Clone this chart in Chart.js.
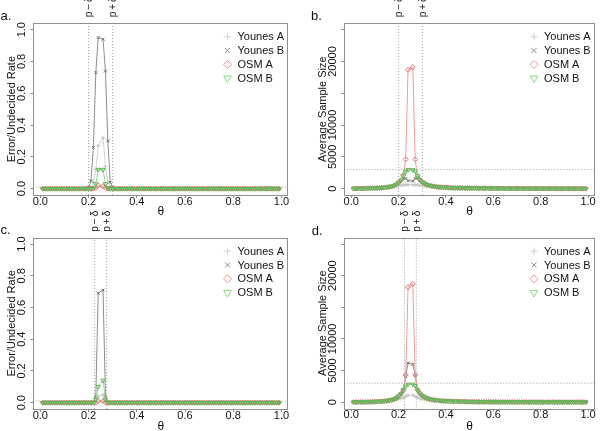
<!DOCTYPE html>
<html>
<head>
<meta charset="utf-8">
<script src="https://cdn.jsdelivr.net/npm/chart.js@4.4.1/dist/chart.umd.min.js"></script>
<style>
  body { margin: 0; background: #fff; }
  #wrap { position: relative; width: 600px; height: 431px; overflow: hidden; background: #fff; }
  #wrap canvas { position: absolute; }
</style>
</head>
<body>
<div id="wrap">
  <canvas id="pa" width="300" height="240" style="left:0;top:0"></canvas>
  <canvas id="pb" width="300" height="240" style="left:300px;top:0"></canvas>
  <canvas id="pc" width="300" height="240" style="left:0;top:200px"></canvas>
  <canvas id="pd" width="300" height="240" style="left:300px;top:200px"></canvas>
</div>
<script>
// theta grid (0.25 itself is not in the runs)
const theta = [
  0.01, 0.02, 0.03, 0.04, 0.05, 0.06, 0.07, 0.08, 0.09, 0.10,
  0.11, 0.12, 0.13, 0.14, 0.15, 0.16, 0.17, 0.18, 0.19, 0.20,
  0.21, 0.22, 0.23, 0.24, 0.26, 0.27, 0.28, 0.29, 0.30, 0.31,
  0.32, 0.33, 0.34, 0.35, 0.36, 0.37, 0.38, 0.39, 0.40, 0.41,
  0.42, 0.43, 0.44, 0.45, 0.46, 0.47, 0.48, 0.49, 0.50, 0.51,
  0.52, 0.53, 0.54, 0.55, 0.56, 0.57, 0.58, 0.59, 0.60, 0.61,
  0.62, 0.63, 0.64, 0.65, 0.66, 0.67, 0.68, 0.69, 0.70, 0.71,
  0.72, 0.73, 0.74, 0.75, 0.76, 0.77, 0.78, 0.79, 0.80, 0.81,
  0.82, 0.83, 0.84, 0.85, 0.86, 0.87, 0.88, 0.89, 0.90, 0.91,
  0.92, 0.93, 0.94, 0.95, 0.96, 0.97, 0.98, 0.99
];
const seriesNames = ['Younes A', 'Younes B', 'OSM A', 'OSM B'];

const xTicks = [0, 0.2, 0.4, 0.6, 0.8, 1.0];
const rateTicks = [0, 0.2, 0.4, 0.6, 0.8, 1.0];
const rateTickLabels = ['0.0', '0.2', '0.4', '0.6', '0.8', '1.0'];
const sizeTicks = [0, 5000, 10000, 15000, 20000, 25000];
const sizeTickLabels = ['0', '5000', '10000', '', '20000', ''];

const deltaWide = [0.2, 0.3];      // p - delta, p + delta (a, b)
const deltaNarrow = [0.225, 0.275]; // (c, d)
const deltaLabels = ['p\u2009\u2212\u2009\u03b4', 'p\u2009+\u2009\u03b4'];
const rateLimit = 0.01;
const sizeLimit = 3000;

// a. error / undecided rate, wide delta
const rateA_younesA = [
  0, 0, 0, 0, 0, 0, 0, 0, 0, 0,
  0, 0, 0, 0, 0, 0, 0, 0, 0, 0.003,
  0.01, 0.04, 0.12, 0.27, 0.32, 0.14, 0.04, 0.01, 0.003, 0,
  0, 0, 0, 0, 0, 0, 0, 0, 0, 0,
  0, 0, 0, 0, 0, 0, 0, 0, 0, 0,
  0, 0, 0, 0, 0, 0, 0, 0, 0, 0,
  0, 0, 0, 0, 0, 0, 0, 0, 0, 0,
  0, 0, 0, 0, 0, 0, 0, 0, 0, 0,
  0, 0, 0, 0, 0, 0, 0, 0, 0, 0,
  0, 0, 0, 0, 0, 0, 0, 0
];
const rateA_younesB = [
  0, 0, 0, 0, 0, 0, 0, 0, 0, 0,
  0, 0, 0, 0, 0, 0, 0, 0, 0.002, 0.01,
  0.05, 0.26, 0.73, 0.95, 0.94, 0.74, 0.30, 0.04, 0.01, 0.002,
  0, 0, 0, 0, 0, 0, 0, 0, 0, 0,
  0, 0, 0, 0, 0, 0, 0, 0, 0, 0,
  0, 0, 0, 0, 0, 0, 0, 0, 0, 0,
  0, 0, 0, 0, 0, 0, 0, 0, 0, 0,
  0, 0, 0, 0, 0, 0, 0, 0, 0, 0,
  0, 0, 0, 0, 0, 0, 0, 0, 0, 0,
  0, 0, 0, 0, 0, 0, 0, 0
];
const rateA_osmA = [
  0, 0, 0, 0, 0, 0, 0, 0, 0, 0,
  0, 0, 0, 0, 0, 0, 0, 0, 0, 0,
  0, 0, 0.005, 0.02, 0.015, 0.005, 0, 0, 0, 0,
  0, 0, 0, 0, 0, 0, 0, 0, 0, 0,
  0, 0, 0, 0, 0, 0, 0, 0, 0, 0,
  0, 0, 0, 0, 0, 0, 0, 0, 0, 0,
  0, 0, 0, 0, 0, 0, 0, 0, 0, 0,
  0, 0, 0, 0, 0, 0, 0, 0, 0, 0,
  0, 0, 0, 0, 0, 0, 0, 0, 0, 0,
  0, 0, 0, 0, 0, 0, 0, 0
];
const rateA_osmB = [
  0, 0, 0, 0, 0, 0, 0, 0, 0, 0,
  0, 0, 0, 0, 0, 0, 0, 0, 0, 0,
  0, 0.005, 0.03, 0.12, 0.12, 0.03, 0.005, 0, 0, 0,
  0, 0, 0, 0, 0, 0, 0, 0, 0, 0,
  0, 0, 0, 0, 0, 0, 0, 0, 0, 0,
  0, 0, 0, 0, 0, 0, 0, 0, 0, 0,
  0, 0, 0, 0, 0, 0, 0, 0, 0, 0,
  0, 0, 0, 0, 0, 0, 0, 0, 0, 0,
  0, 0, 0, 0, 0, 0, 0, 0, 0, 0,
  0, 0, 0, 0, 0, 0, 0, 0
];

// c. error / undecided rate, narrow delta
const rateC_younesA = [
  0, 0, 0, 0, 0, 0, 0, 0, 0, 0,
  0, 0, 0, 0, 0, 0, 0, 0, 0, 0,
  0, 0, 0.01, 0.04, 0.05, 0.01, 0, 0, 0, 0,
  0, 0, 0, 0, 0, 0, 0, 0, 0, 0,
  0, 0, 0, 0, 0, 0, 0, 0, 0, 0,
  0, 0, 0, 0, 0, 0, 0, 0, 0, 0,
  0, 0, 0, 0, 0, 0, 0, 0, 0, 0,
  0, 0, 0, 0, 0, 0, 0, 0, 0, 0,
  0, 0, 0, 0, 0, 0, 0, 0, 0, 0,
  0, 0, 0, 0, 0, 0, 0, 0
];
const rateC_younesB = [
  0, 0, 0, 0, 0, 0, 0, 0, 0, 0,
  0, 0, 0, 0, 0, 0, 0, 0, 0, 0,
  0, 0.003, 0.04, 0.69, 0.71, 0.04, 0.003, 0, 0, 0,
  0, 0, 0, 0, 0, 0, 0, 0, 0, 0,
  0, 0, 0, 0, 0, 0, 0, 0, 0, 0,
  0, 0, 0, 0, 0, 0, 0, 0, 0, 0,
  0, 0, 0, 0, 0, 0, 0, 0, 0, 0,
  0, 0, 0, 0, 0, 0, 0, 0, 0, 0,
  0, 0, 0, 0, 0, 0, 0, 0, 0, 0,
  0, 0, 0, 0, 0, 0, 0, 0
];
const rateC_osmA = [
  0, 0, 0, 0, 0, 0, 0, 0, 0, 0,
  0, 0, 0, 0, 0, 0, 0, 0, 0, 0,
  0, 0, 0, 0.01, 0.01, 0, 0, 0, 0, 0,
  0, 0, 0, 0, 0, 0, 0, 0, 0, 0,
  0, 0, 0, 0, 0, 0, 0, 0, 0, 0,
  0, 0, 0, 0, 0, 0, 0, 0, 0, 0,
  0, 0, 0, 0, 0, 0, 0, 0, 0, 0,
  0, 0, 0, 0, 0, 0, 0, 0, 0, 0,
  0, 0, 0, 0, 0, 0, 0, 0, 0, 0,
  0, 0, 0, 0, 0, 0, 0, 0
];
const rateC_osmB = [
  0, 0, 0, 0, 0, 0, 0, 0, 0, 0,
  0, 0, 0, 0, 0, 0, 0, 0, 0, 0,
  0, 0, 0.02, 0.10, 0.14, 0.02, 0, 0, 0, 0,
  0, 0, 0, 0, 0, 0, 0, 0, 0, 0,
  0, 0, 0, 0, 0, 0, 0, 0, 0, 0,
  0, 0, 0, 0, 0, 0, 0, 0, 0, 0,
  0, 0, 0, 0, 0, 0, 0, 0, 0, 0,
  0, 0, 0, 0, 0, 0, 0, 0, 0, 0,
  0, 0, 0, 0, 0, 0, 0, 0, 0, 0,
  0, 0, 0, 0, 0, 0, 0, 0
];

// b. average sample size, wide delta
const sizeB_younesA = [
  8, 12, 16, 20, 25, 32, 40, 48, 56, 65,
  80, 95, 115, 140, 170, 210, 260, 320, 390, 460,
  520, 570, 600, 610, 610, 600, 570, 520, 470, 420,
  380, 340, 300, 270, 240, 215, 195, 175, 160, 148,
  137, 125, 115, 106, 97, 90, 83, 77, 71, 66,
  62, 58, 54, 51, 48, 45, 42, 40, 38, 36,
  34, 32, 30, 29, 27, 26, 25, 24, 23, 22,
  21, 20, 19, 18, 17, 16, 15, 15, 14, 13,
  13, 12, 12, 11, 11, 10, 10, 9, 9, 9,
  8, 8, 7, 7, 6, 6, 5, 5
];
const sizeB_younesB = [
  10, 15, 20, 25, 30, 40, 50, 60, 70, 80,
  100, 120, 150, 180, 220, 280, 350, 460, 640, 950,
  1250, 1650, 1600, 1250, 1200, 1600, 1650, 1300, 1000, 780,
  620, 500, 410, 350, 300, 260, 230, 200, 180, 165,
  150, 135, 125, 115, 105, 98, 90, 84, 78, 73,
  68, 64, 60, 56, 53, 50, 47, 44, 42, 40,
  38, 36, 34, 32, 30, 29, 27, 26, 25, 24,
  23, 22, 21, 20, 19, 18, 17, 16, 15, 15,
  14, 14, 13, 13, 12, 12, 11, 11, 10, 10,
  10, 9, 9, 8, 8, 7, 7, 6
];
const sizeB_osmA = [
  10, 15, 20, 25, 30, 40, 50, 60, 70, 80,
  100, 120, 150, 180, 220, 280, 350, 460, 640, 950,
  1350, 2100, 4600, 18700, 19100, 4600, 2000, 1400, 1050, 800,
  620, 500, 410, 350, 300, 260, 230, 200, 180, 165,
  150, 135, 125, 115, 105, 98, 90, 84, 78, 73,
  68, 64, 60, 56, 53, 50, 47, 44, 42, 40,
  38, 36, 34, 32, 30, 29, 27, 26, 25, 24,
  23, 22, 21, 20, 19, 18, 17, 16, 15, 15,
  14, 14, 13, 13, 12, 12, 11, 11, 10, 10,
  10, 9, 9, 8, 8, 7, 7, 6
];
const sizeB_osmB = [
  10, 15, 20, 25, 30, 40, 50, 60, 70, 80,
  100, 120, 150, 180, 220, 280, 350, 460, 640, 950,
  1300, 2000, 2700, 2950, 2950, 2700, 2000, 1400, 1050, 800,
  620, 500, 410, 350, 300, 260, 230, 200, 180, 165,
  150, 135, 125, 115, 105, 98, 90, 84, 78, 73,
  68, 64, 60, 56, 53, 50, 47, 44, 42, 40,
  38, 36, 34, 32, 30, 29, 27, 26, 25, 24,
  23, 22, 21, 20, 19, 18, 17, 16, 15, 15,
  14, 14, 13, 13, 12, 12, 11, 11, 10, 10,
  10, 9, 9, 8, 8, 7, 7, 6
];

// d. average sample size, narrow delta
const sizeD_younesA = [
  8, 12, 16, 20, 25, 32, 40, 48, 56, 65,
  80, 95, 115, 140, 170, 210, 260, 320, 390, 460,
  560, 750, 900, 1100, 1100, 900, 750, 560, 470, 420,
  380, 340, 300, 270, 240, 215, 195, 175, 160, 148,
  137, 125, 115, 106, 97, 90, 83, 77, 71, 66,
  62, 58, 54, 51, 48, 45, 42, 40, 38, 36,
  34, 32, 30, 29, 27, 26, 25, 24, 23, 22,
  21, 20, 19, 18, 17, 16, 15, 15, 14, 13,
  13, 12, 12, 11, 11, 10, 10, 9, 9, 9,
  8, 8, 7, 7, 6, 6, 5, 5
];
const sizeD_younesB = [
  10, 15, 20, 25, 30, 40, 50, 60, 70, 80,
  100, 120, 150, 180, 220, 280, 350, 460, 640, 950,
  1300, 1900, 4000, 6200, 6000, 4200, 1900, 1300, 1000, 780,
  620, 500, 410, 350, 300, 260, 230, 200, 180, 165,
  150, 135, 125, 115, 105, 98, 90, 84, 78, 73,
  68, 64, 60, 56, 53, 50, 47, 44, 42, 40,
  38, 36, 34, 32, 30, 29, 27, 26, 25, 24,
  23, 22, 21, 20, 19, 18, 17, 16, 15, 15,
  14, 14, 13, 13, 12, 12, 11, 11, 10, 10,
  10, 9, 9, 8, 8, 7, 7, 6
];
const sizeD_osmA = [
  10, 15, 20, 25, 30, 40, 50, 60, 70, 80,
  100, 120, 150, 180, 220, 280, 350, 460, 640, 950,
  1350, 1950, 4300, 18200, 18700, 4300, 1950, 1400, 1050, 800,
  620, 500, 410, 350, 300, 260, 230, 200, 180, 165,
  150, 135, 125, 115, 105, 98, 90, 84, 78, 73,
  68, 64, 60, 56, 53, 50, 47, 44, 42, 40,
  38, 36, 34, 32, 30, 29, 27, 26, 25, 24,
  23, 22, 21, 20, 19, 18, 17, 16, 15, 15,
  14, 14, 13, 13, 12, 12, 11, 11, 10, 10,
  10, 9, 9, 8, 8, 7, 7, 6
];
const sizeD_osmB = [
  10, 15, 20, 25, 30, 40, 50, 60, 70, 80,
  100, 120, 150, 180, 220, 280, 350, 460, 640, 950,
  1300, 1900, 2500, 2800, 2800, 2600, 1900, 1400, 1050, 800,
  620, 500, 410, 350, 300, 260, 230, 200, 180, 165,
  150, 135, 125, 115, 105, 98, 90, 84, 78, 73,
  68, 64, 60, 56, 53, 50, 47, 44, 42, 40,
  38, 36, 34, 32, 30, 29, 27, 26, 25, 24,
  23, 22, 21, 20, 19, 18, 17, 16, 15, 15,
  14, 14, 13, 13, 12, 12, 11, 11, 10, 10,
  10, 9, 9, 8, 8, 7, 7, 6
];

const FONT = "'Liberation Sans', Arial, Helvetica, sans-serif";
const TEXT = '#111';
const AXIS = '#8f8f8f';
Chart.defaults.font.family = FONT;
Chart.defaults.color = TEXT;

// marker looks, same order as seriesNames (points a bit darker than lines, as in the print)
const looks = [
  { line: '#d2d2d2', point: '#c4c4c4', key: '#cfcfcf', style: 'cross',    rot: 0,   r: 2.0, lr: 3.6 },
  { line: '#8e8e8e', point: '#6e6e6e', key: '#8a8a8a', style: 'crossRot', rot: 0,   r: 2.0, lr: 3.6 },
  { line: '#f29a9a', point: '#de7676', key: '#f29191', style: 'rectRot',  rot: 0,   r: 2.5, lr: 4.0 },
  { line: '#8fd98f', point: '#62b556', key: '#86d886', style: 'triangle', rot: 180, r: 2.5, lr: 4.4 }
];

const xMin = -0.0292, xMax = 1.0292;

function textWidth(s, size) {
  const c = document.createElement('canvas').getContext('2d');
  c.font = size + 'px ' + FONT;
  return c.measureText(s).width;
}

function refLine(points) {
  return {
    data: points, borderColor: '#a0a0a0', borderWidth: 1, borderDash: [1, 2],
    pointRadius: 0, order: 10, tension: 0
  };
}

function makePanel(p) {
  const canvas = document.getElementById(p.id);
  const W = canvas.width, H = canvas.height;
  const box = p.box;

  const datasets = [];
  p.deltas.forEach(d => datasets.push(refLine([{ x: d, y: p.yMin }, { x: d, y: p.yMax }])));
  datasets.push(refLine([{ x: xMin, y: p.limit }, { x: xMax, y: p.limit }]));
  p.series.forEach((vals, i) => {
    const lk = looks[i];
    datasets.push({
      label: seriesNames[i],
      data: theta.map((t, k) => ({ x: t, y: vals[k] })),
      borderColor: lk.line, borderWidth: 1, tension: 0,
      pointStyle: lk.style, pointRotation: lk.rot, pointRadius: lk.r,
      pointBorderColor: lk.point, pointBackgroundColor: 'rgba(0,0,0,0)', pointBorderWidth: 1,
      order: 4 - i
    });
  });

  const widest = Math.max(...p.yLabels.map(s => textWidth(s, 11)));
  const yPad = 11.2 - 3 - widest / 2;

  const rstyle = {
    id: 'rstyle',
    afterDraw(chart) {
      const ctx = chart.ctx, ca = chart.chartArea;
      ctx.save();
      // plot box
      ctx.strokeStyle = AXIS;
      ctx.lineWidth = 1;
      ctx.strokeRect(Math.round(ca.left) + 0.5, Math.round(ca.top) + 0.5,
        Math.round(ca.right - ca.left) - 1, Math.round(ca.bottom - ca.top));
      // panel letter
      ctx.fillStyle = TEXT;
      ctx.font = '13px ' + FONT;
      ctx.textAlign = 'left';
      ctx.textBaseline = 'alphabetic';
      ctx.fillText(p.letter, p.letterX, p.letterY);
      // p - delta / p + delta above the box
      ctx.font = '10px ' + FONT;
      p.deltas.forEach((d, i) => {
        const x = chart.scales.x.getPixelForValue(d);
        ctx.save();
        ctx.translate(x + 0.5, ca.top - 6);
        ctx.rotate(-Math.PI / 2);
        ctx.textAlign = 'left';
        ctx.textBaseline = 'middle';
        ctx.fillText(deltaLabels[i], 0, 0);
        ctx.restore();
      });
      // legend, top right, no frame
      ctx.font = '11px ' + FONT;
      ctx.textBaseline = 'middle';
      seriesNames.forEach((name, i) => {
        const lk = looks[i];
        const y = ca.top + 13.5 + i * 13.8;
        const mx = ca.right - 61;
        ctx.strokeStyle = lk.key;
        ctx.fillStyle = 'rgba(0,0,0,0)';
        ctx.lineWidth = 1;
        Chart.helpers.drawPoint(ctx, { pointStyle: lk.style, rotation: lk.rot, radius: lk.lr, borderWidth: 1 }, mx, y);
        ctx.fillStyle = TEXT;
        ctx.fillText(name, ca.right - 51, y + 0.5);
      });
      ctx.restore();
    }
  };

  return new Chart(canvas, {
    type: 'line',
    data: { datasets },
    options: {
      responsive: false,
      animation: false,
      events: [],
      layout: { padding: { left: 0, top: box.top, right: W - box.right, bottom: 0 } },
      plugins: { legend: { display: false }, tooltip: { enabled: false } },
      scales: {
        x: {
          type: 'linear', min: xMin, max: xMax,
          afterBuildTicks: s => { s.ticks = xTicks.map(v => ({ value: v })); },
          afterFit: s => { s.height = H - box.bottom; },
          grid: { display: true, drawOnChartArea: false, drawTicks: true, tickLength: 3, color: AXIS },
          border: { display: false },
          ticks: { maxRotation: 0, minRotation: 0, padding: -2, color: TEXT,
                   font: { size: 11, lineHeight: 1 }, callback: v => v.toFixed(1) },
          title: { display: true, text: '\u03b8', color: TEXT, font: { size: 12, lineHeight: 1 },
                   padding: { top: 0, bottom: H - p.xTitleY - 6 } }
        },
        y: {
          type: 'linear', min: p.yMin, max: p.yMax,
          afterBuildTicks: s => { s.ticks = p.yTicks.map(v => ({ value: v })); },
          afterFit: s => { s.width = box.left; },
          grid: { display: true, drawOnChartArea: false, drawTicks: true, tickLength: 3, color: AXIS },
          border: { display: false },
          ticks: { minRotation: 90, maxRotation: 90, crossAlign: 'center', padding: yPad, color: TEXT,
                   font: { size: 11 }, callback: (v, i) => p.yLabels[i] },
          title: { display: true, text: p.yTitle, color: TEXT, font: { size: 11, lineHeight: 1.2 },
                   padding: { top: p.yTitleX - 6.6, bottom: 0 } }
        }
      }
    },
    plugins: [rstyle]
  });
}

makePanel({
  id: 'pa', box: { left: 33.3, top: 23.3, right: 288.5, bottom: 195 },
  yMin: -0.04, yMax: 1.04, yTicks: rateTicks, yLabels: rateTickLabels,
  yTitle: 'Error/Undecided Rate', yTitleX: 12.3, xTitleY: 212,
  letter: 'a.', letterX: 0.5, letterY: 20,
  deltas: deltaWide, limit: rateLimit,
  series: [rateA_younesA, rateA_younesB, rateA_osmA, rateA_osmB]
});
makePanel({
  id: 'pb', box: { left: 44.3, top: 23.3, right: 299, bottom: 195 },
  yMin: -1000, yMax: 26000, yTicks: sizeTicks, yLabels: sizeTickLabels,
  yTitle: 'Average Sample Size', yTitleX: 22.8, xTitleY: 212,
  letter: 'b.', letterX: 11, letterY: 20,
  deltas: deltaWide, limit: sizeLimit,
  series: [sizeB_younesA, sizeB_younesB, sizeB_osmA, sizeB_osmB]
});
makePanel({
  id: 'pc', box: { left: 33.3, top: 37.7, right: 288.5, bottom: 209 },
  yMin: -0.04, yMax: 1.04, yTicks: rateTicks, yLabels: rateTickLabels,
  yTitle: 'Error/Undecided Rate', yTitleX: 12.3, xTitleY: 226.7,
  letter: 'c.', letterX: 0.5, letterY: 33.7,
  deltas: deltaNarrow, limit: rateLimit,
  series: [rateC_younesA, rateC_younesB, rateC_osmA, rateC_osmB]
});
makePanel({
  id: 'pd', box: { left: 44.3, top: 37.7, right: 299, bottom: 208.5 },
  yMin: -1000, yMax: 26000, yTicks: sizeTicks, yLabels: sizeTickLabels,
  yTitle: 'Average Sample Size', yTitleX: 22.8, xTitleY: 226.7,
  letter: 'd.', letterX: 11.7, letterY: 35,
  deltas: deltaNarrow, limit: sizeLimit,
  series: [sizeD_younesA, sizeD_younesB, sizeD_osmA, sizeD_osmB]
});
</script>
</body>
</html>
